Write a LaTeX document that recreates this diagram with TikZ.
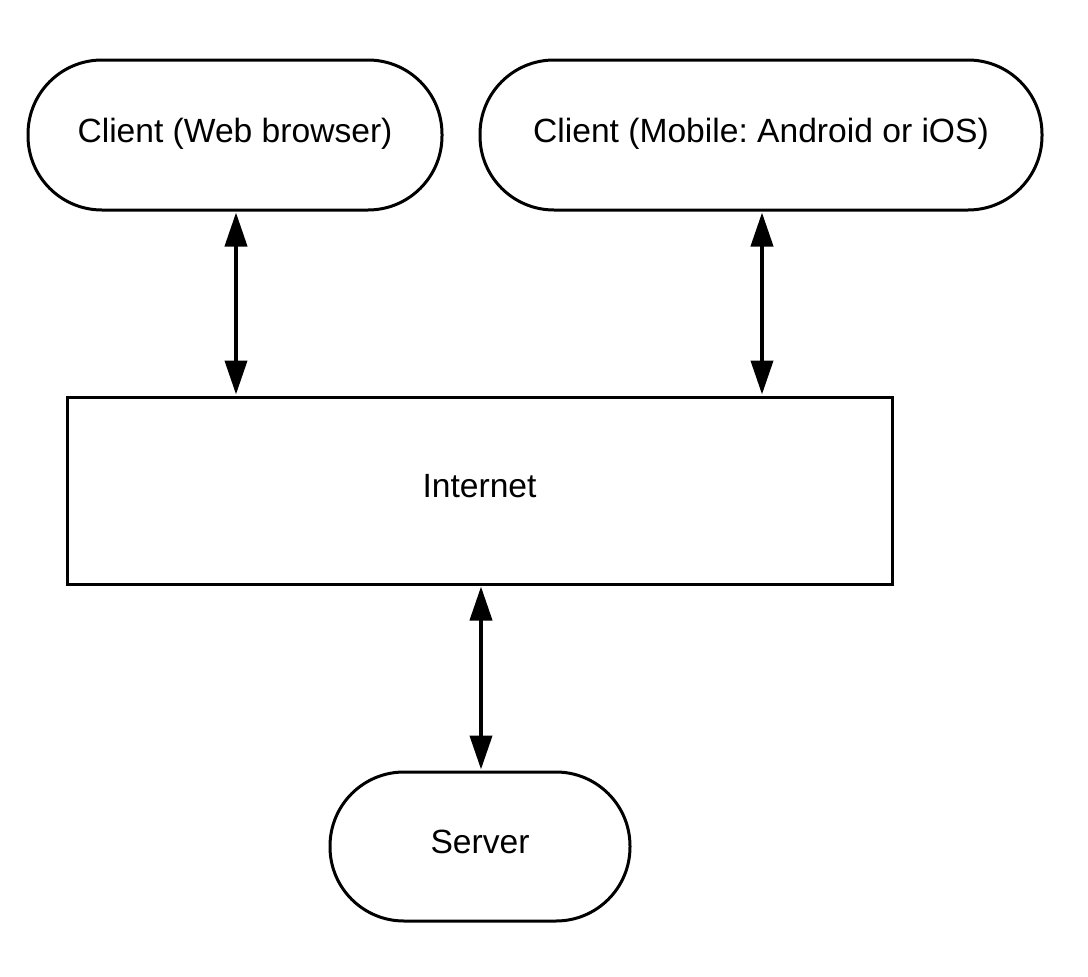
\documentclass[tikz,border=0pt]{standalone}
\usepackage{fontspec}
\setmainfont{Liberation Sans}
\usetikzlibrary{arrows.meta}
\frenchspacing
\begin{document}
\begin{tikzpicture}[x=1pt,y=-1pt,
  txt/.style={font=\fontsize{33.6}{40}\selectfont, text height=24pt, text depth=10pt},
  term/.style={txt, draw, line width=3pt, rounded corners=74pt, minimum height=150pt, inner sep=0pt},
  boxnode/.style={txt, draw, line width=3pt, minimum width=825pt, minimum height=187pt, inner sep=0pt},
  link/.style={line width=4pt, {Triangle[length=34pt,width=22pt]}-{Triangle[length=34pt,width=22pt]}, shorten <=1pt, shorten >=1pt}]
\useasboundingbox (0,0) rectangle (1088,977);
\node[term, minimum width=414pt] (web) at (235,135) {Client (Web browser)};
\node[term, minimum width=562pt] (mob) at (761,135) {Client (Mobile: Android or iOS)};
\node[boxnode] (net) at (479.5,490.5) {Internet};
\node[term, minimum width=300pt, minimum height=149pt] (srv) at (480,846.5) {Server};
\draw[link] (web.south -| 236,0) -- (net.north -| 236,0);
\draw[link] (mob.south -| 762,0) -- (net.north -| 762,0);
\draw[link] (net.south -| 481,0) -- (srv.north -| 481,0);
\end{tikzpicture}
\end{document}
